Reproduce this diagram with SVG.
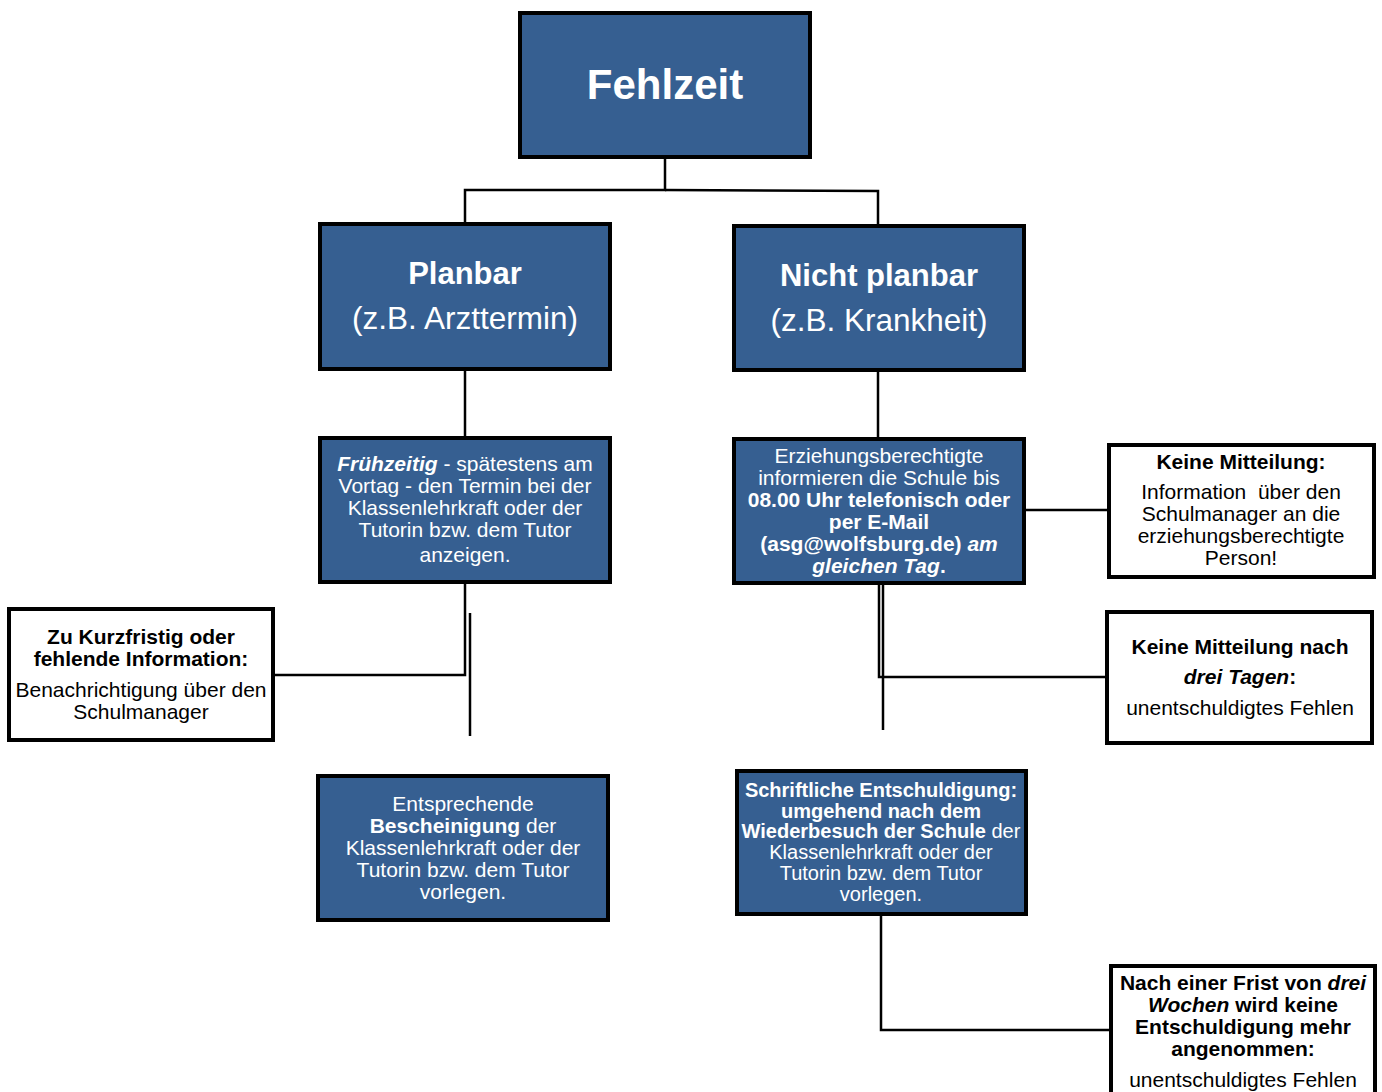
<svg xmlns="http://www.w3.org/2000/svg" width="1382" height="1092" viewBox="0 0 1382 1092">
<style>
.blue{fill:#365f91;stroke:#000;stroke-width:4}
.white{fill:#fff;stroke:#000;stroke-width:4}
.con{fill:none;stroke:#000;stroke-width:2.5}
text{font-family:"Liberation Sans",Arial,sans-serif;text-anchor:middle}
.tw{fill:#fff}
.tb{fill:#000}
.b{font-weight:bold}
.i{font-style:italic}
</style>
<rect width="1382" height="1092" fill="#fff"/>
<g id="connectors">
<polyline class="con" points="665,158 665,190 465,190 465,224"/>
<polyline class="con" points="665,190 878,191 878,226"/>
<line class="con" x1="465" y1="369" x2="465" y2="437"/>
<polyline class="con" points="465,582 465,675 274,675"/>
<line class="con" x1="470" y1="613" x2="470" y2="736"/>
<line class="con" x1="878" y1="370" x2="878" y2="438"/>
<line class="con" x1="1024" y1="510" x2="1109" y2="510"/>
<polyline class="con" points="879,583 879,677 1107,677"/>
<line class="con" x1="883" y1="552" x2="883" y2="730"/>
<polyline class="con" points="881,915 881,1030 1110,1030"/>
</g>
<g id="fehlzeit">
<rect class="blue" x="520" y="13" width="290" height="144"/>
<text class="tw b" x="665" y="99" font-size="42">Fehlzeit</text>
</g>
<g id="planbar">
<rect class="blue" x="320" y="224" width="290" height="145"/>
<text class="tw b" x="465" y="284" font-size="31">Planbar</text>
<text class="tw" x="465" y="329" font-size="31.5">(z.B. Arzttermin)</text>
</g>
<g id="nichtplanbar">
<rect class="blue" x="734" y="226" width="290" height="144"/>
<text class="tw b" x="879" y="286" font-size="31">Nicht planbar</text>
<text class="tw" x="879" y="331" font-size="31.5">(z.B. Krankheit)</text>
</g>
<g id="fruehzeitig" font-size="21">
<rect class="blue" x="320" y="438" width="290" height="144"/>
<text class="tw" x="465" y="471"><tspan class="b i">Frühzeitig</tspan> - spätestens am</text>
<text class="tw" x="465" y="493">Vortag - den Termin bei der</text>
<text class="tw" x="465" y="515">Klassenlehrkraft oder der</text>
<text class="tw" x="465" y="537">Tutorin bzw. dem Tutor</text>
<text class="tw" x="465" y="562">anzeigen.</text>
</g>
<g id="kurzfristig" font-size="21">
<rect class="white" x="9" y="609" width="264" height="131"/>
<text class="tb b" x="141" y="644">Zu Kurzfristig oder</text>
<text class="tb b" x="141" y="666">fehlende Information:</text>
<text class="tb" x="141" y="697">Benachrichtigung über den</text>
<text class="tb" x="141" y="719">Schulmanager</text>
</g>
<g id="bescheinigung" font-size="21">
<rect class="blue" x="318" y="776" width="290" height="144"/>
<text class="tw" x="463" y="811">Entsprechende</text>
<text class="tw" x="463" y="833"><tspan class="b">Bescheinigung</tspan> der</text>
<text class="tw" x="463" y="855">Klassenlehrkraft oder der</text>
<text class="tw" x="463" y="877">Tutorin bzw. dem Tutor</text>
<text class="tw" x="463" y="899">vorlegen.</text>
</g>
<g id="erziehungsberechtigte" font-size="21">
<rect class="blue" x="734" y="439" width="290" height="144"/>
<text class="tw" x="879" y="463">Erziehungsberechtigte</text>
<text class="tw" x="879" y="485">informieren die Schule bis</text>
<text class="tw b" x="879" y="507">08.00 Uhr telefonisch oder</text>
<text class="tw b" x="879" y="529">per E-Mail</text>
<text class="tw b" x="879" y="551">(asg@wolfsburg.de) <tspan class="i">am</tspan></text>
<text class="tw b" x="879" y="573"><tspan class="i">gleichen Tag</tspan>.</text>
</g>
<g id="keinemitteilung" font-size="21">
<rect class="white" x="1109" y="445" width="265" height="132"/>
<text class="tb b" x="1241" y="469">Keine Mitteilung:</text>
<text class="tb" x="1241" y="499" xml:space="preserve">Information  über den</text>
<text class="tb" x="1241" y="521">Schulmanager an die</text>
<text class="tb" x="1241" y="543">erziehungsberechtigte</text>
<text class="tb" x="1241" y="565">Person!</text>
</g>
<g id="keinemitteilungnach" font-size="21">
<rect class="white" x="1107" y="612" width="265" height="131"/>
<text class="tb b" x="1240" y="654">Keine Mitteilung nach</text>
<text class="tb b" x="1240" y="684"><tspan class="i">drei Tagen</tspan>:</text>
<text class="tb" x="1240" y="715">unentschuldigtes Fehlen</text>
</g>
<g id="schriftliche" font-size="20">
<rect class="blue" x="737" y="771" width="289" height="143"/>
<text class="tw b" x="881" y="797">Schriftliche Entschuldigung:</text>
<text class="tw b" x="881" y="818">umgehend nach dem</text>
<text class="tw" x="881" y="838"><tspan class="b">Wiederbesuch der Schule</tspan> der</text>
<text class="tw" x="881" y="859">Klassenlehrkraft oder der</text>
<text class="tw" x="881" y="880">Tutorin bzw. dem Tutor</text>
<text class="tw" x="881" y="901">vorlegen.</text>
</g>
<g id="frist" font-size="21">
<rect class="white" x="1111" y="966" width="264" height="140"/>
<text class="tb b" x="1243" y="990">Nach einer Frist von <tspan class="i">drei</tspan></text>
<text class="tb b" x="1243" y="1012"><tspan class="i">Wochen</tspan> wird keine</text>
<text class="tb b" x="1243" y="1034">Entschuldigung mehr</text>
<text class="tb b" x="1243" y="1056">angenommen:</text>
<text class="tb" x="1243" y="1087">unentschuldigtes Fehlen</text>
</g>
</svg>
